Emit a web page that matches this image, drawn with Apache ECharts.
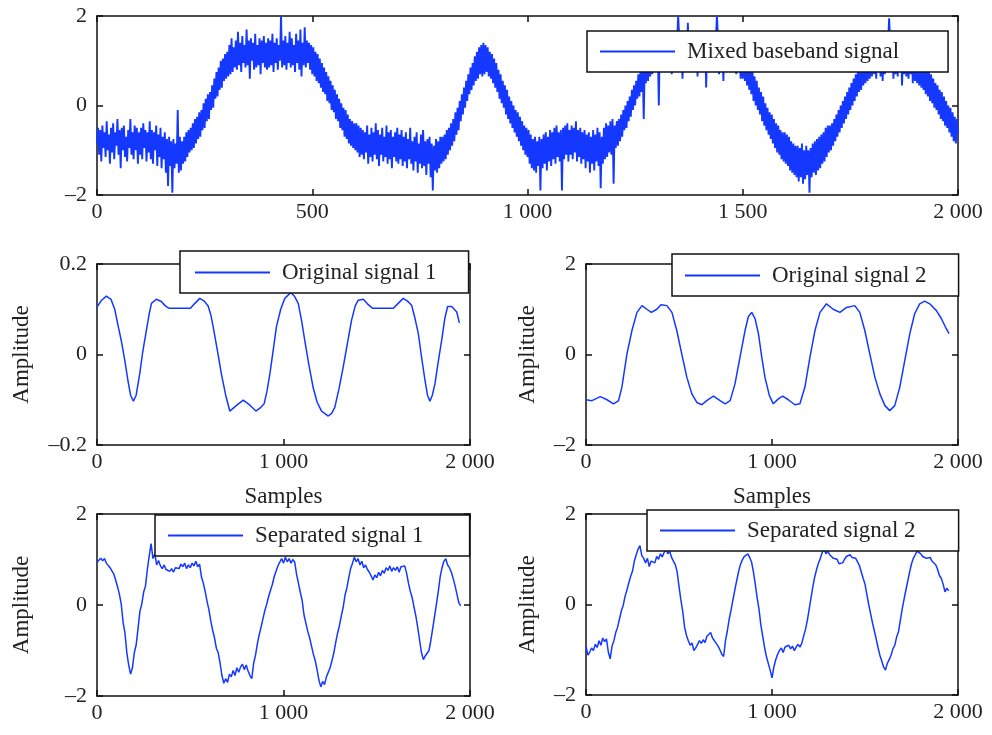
<!DOCTYPE html>
<html>
<head>
<meta charset="utf-8">
<title>Mixed and separated signals</title>
<script src="https://cdn.jsdelivr.net/npm/echarts@6/dist/echarts.min.js"></script>
<style>
  html, body { margin: 0; padding: 0; background: #fff; }
  #chart { width: 992px; height: 735px; }
</style>
</head>
<body>
<div id="chart"></div>
<script>
// Mixed baseband signal, one value every mixedStep samples (0..2000), 40 values per 100 samples
const mixedStep = 2.5;
const mixedValues = [
  -0.85, -0.5, -1.1, -0.55, -1.25, -0.45, -0.95, -0.6, -1.15, -0.35, -1.0, -0.65, -1.3, -0.5, -1.05, -0.4, -1.2, -0.6, -0.9, -0.3,
  -1.1, -0.55, -1.4, -0.5, -1.0, -0.45, -1.15, -0.7, -1.25, -0.55, -0.95, -0.3, -1.1, -0.6, -1.2, -0.45, -1.0, -0.5, -1.3, -0.6,
  -1.1, -0.5, -1.2, -0.4, -0.95, -0.55, -1.25, -0.6, -1.05, -0.35, -1.2, -0.55, -1.3, -0.6, -1.0, -0.45, -1.35, -0.65, -1.15, -0.5,
  -1.4, -0.7, -1.2, -0.6, -1.5, -0.75, -1.8, -0.7, -1.35, -0.8, -1.95, -0.75, -1.4, -0.85, -1.3, -0.1, -1.5, -0.7, -1.45, -0.8,
  -1.3, -0.7, -1.25, -0.6, -1.15, -0.55, -1.05, -0.5, -1.0, -0.4, -0.95, -0.3, -0.85, -0.25, -0.75, -0.15, -0.7, -0.1, -0.55, 0.05,
  -0.5, 0.15, -0.35, 0.25, -0.3, 0.3, -0.1, 0.45, -0.05, 0.6, 0.15, 0.75, 0.2, 0.85, 0.35, 1.0, 0.4, 1.05, 0.55, 1.15,
  0.6, 1.2, 0.65, 1.35, 0.7, 1.5, 0.75, 1.3, 0.85, 1.45, 0.8, 1.65, 0.9, 1.4, 0.75, 1.55, 0.95, 1.35, 0.85, 1.7,
  0.9, 1.45, 0.6, 1.5, 1.0, 1.4, 0.8, 1.6, 0.85, 1.35, 0.9, 1.5, 0.7, 1.45, 0.95, 1.55, 0.85, 1.4, 0.8, 1.5,
  0.85, 1.45, 0.9, 1.6, 0.75, 1.4, 0.95, 1.5, 0.8, 1.35, 1.0, 2.0, 0.85, 1.45, 0.9, 1.55, 0.8, 1.4, 0.95, 1.65,
  0.85, 1.5, 0.9, 1.35, 0.75, 1.6, 0.95, 1.45, 0.8, 1.7, 0.65, 1.4, 0.9, 1.75, 0.85, 1.45, 0.95, 1.4, 0.8, 1.35,
  0.7, 1.3, 0.65, 1.2, 0.55, 1.15, 0.5, 1.05, 0.4, 0.95, 0.3, 0.85, 0.25, 0.75, 0.1, 0.65, 0.05, 0.55, -0.1, 0.45,
  -0.15, 0.35, -0.3, 0.25, -0.35, 0.15, -0.5, 0.05, -0.55, -0.05, -0.7, -0.1, -0.75, -0.2, -0.85, -0.3, -0.9, -0.35, -0.95, -0.4,
  -1.0, -0.4, -1.05, -0.45, -1.15, -0.5, -1.1, -0.55, -1.2, -0.6, -1.05, -0.45, -1.3, -0.65, -1.15, -0.5, -1.25, -0.6, -1.1, -0.4,
  -1.2, -0.55, -1.35, -0.65, -1.1, -0.5, -1.25, -0.7, -1.15, -0.45, -1.3, -0.6, -1.2, -0.55, -1.4, -0.7, -1.15, -0.6, -1.25, -0.5,
  -1.3, -0.65, -1.2, -0.55, -1.35, -0.7, -1.25, -0.6, -1.4, -0.75, -1.2, -0.5, -1.3, -0.8, -1.45, -0.7, -1.25, -0.6, -1.5, -0.85,
  -1.3, -0.65, -1.4, -0.55, -1.35, -0.8, -1.55, -0.75, -1.3, -0.7, -1.6, -0.85, -1.9, -0.9, -1.45, -0.75, -1.5, -0.8, -1.4, -0.7,
  -1.3, -0.7, -1.25, -0.65, -1.2, -0.55, -1.1, -0.5, -1.0, -0.4, -0.9, -0.3, -0.8, -0.15, -0.65, -0.05, -0.55, 0.1, -0.35, 0.25,
  -0.2, 0.4, -0.05, 0.55, 0.1, 0.7, 0.25, 0.85, 0.35, 0.95, 0.45, 1.1, 0.55, 1.2, 0.6, 1.3, 0.7, 1.35, 0.65, 1.4,
  0.7, 1.35, 0.75, 1.3, 0.65, 1.2, 0.6, 1.15, 0.5, 1.05, 0.4, 0.95, 0.3, 0.8, 0.15, 0.7, 0.05, 0.55, -0.05, 0.45,
  -0.2, 0.35, -0.3, 0.2, -0.4, 0.1, -0.5, 0.0, -0.6, -0.1, -0.7, -0.15, -0.8, -0.25, -0.9, -0.35, -1.0, -0.45, -1.1, -0.5,
  -1.15, -0.55, -1.3, -0.65, -1.4, -0.75, -1.45, -0.7, -1.5, -0.8, -1.35, -0.7, -1.9, -0.75, -1.4, -0.65, -1.3, -0.6, -1.45, -0.7,
  -1.25, -0.55, -1.35, -0.6, -1.2, -0.5, -1.3, -0.45, -1.15, -0.6, -1.25, -0.55, -1.9, -0.5, -1.2, -0.45, -1.1, -0.4, -1.25, -0.55,
  -1.1, -0.45, -1.2, -0.5, -1.05, -0.35, -1.25, -0.55, -1.15, -0.5, -1.3, -0.6, -1.2, -0.55, -1.4, -0.65, -1.25, -0.6, -1.5, -0.7,
  -1.3, -0.55, -1.45, -0.65, -1.25, -0.5, -1.35, -0.6, -1.85, -0.7, -1.3, -0.5, -1.2, -0.4, -1.15, -0.45, -1.05, -0.35, -1.1, -0.3,
  -1.75, -0.45, -0.95, -0.35, -0.9, -0.3, -0.8, -0.2, -0.7, -0.1, -0.55, 0.0, -0.5, 0.1, -0.35, 0.2, -0.25, 0.35, -0.1, 0.45,
  0.0, 0.55, 0.15, 0.7, 0.2, 0.8, 0.3, 0.9, -0.3, 1.0, 0.5, 1.15, 0.55, 1.2, 0.65, 1.3, 0.7, 1.4, 0.75, 1.35,
  0.85, 1.4, 0.0, 1.5, 0.8, 1.35, 0.9, 1.6, 0.75, 1.45, 0.95, 1.5, 0.85, 1.65, 0.7, 1.4, 0.9, 1.55, 0.85, 1.45,
  2.0, 1.5, 0.9, 1.6, 0.6, 1.45, 0.85, 1.55, 0.9, 1.85, 0.8, 1.5, 0.95, 1.4, 0.85, 1.6, 0.9, 1.45, 0.65, 1.5,
  0.9, 1.55, 0.85, 1.45, 0.95, 1.6, 0.4, 1.5, 0.8, 1.4, 0.9, 1.55, 0.85, 1.65, 0.9, 1.45, 2.0, 1.5, 0.7, 1.45,
  0.85, 1.55, 0.55, 1.4, 0.8, 1.5, 0.9, 1.35, 0.85, 1.45, 1.0, 1.55, 0.75, 1.4, 0.7, 1.3, 0.8, 1.35, 0.6, 1.25,
  0.6, 1.2, 0.55, 1.1, 0.45, 1.0, 0.35, 0.9, 0.25, 0.8, 0.1, 0.65, 0.0, 0.55, -0.1, 0.4, -0.2, 0.3, -0.35, 0.2,
  -0.45, 0.05, -0.55, -0.05, -0.65, -0.15, -0.75, -0.2, -0.85, -0.3, -0.95, -0.4, -1.05, -0.45, -1.1, -0.55, -1.2, -0.6, -1.25, -0.6,
  -1.3, -0.65, -1.35, -0.7, -1.45, -0.8, -1.5, -0.85, -1.55, -0.9, -1.6, -0.9, -1.7, -0.95, -1.6, -0.85, -1.75, -1.0, -1.65, -0.9,
  -1.55, -1.0, -1.95, -0.95, -1.6, -0.85, -1.5, -0.8, -1.55, -0.75, -1.45, -0.7, -1.4, -0.65, -1.3, -0.6, -1.25, -0.5, -1.15, -0.45,
  -1.05, -0.45, -1.0, -0.4, -0.9, -0.3, -0.8, -0.2, -0.7, -0.1, -0.6, 0.0, -0.5, 0.1, -0.4, 0.2, -0.3, 0.3, -0.2, 0.4,
  -0.1, 0.5, 0.0, 0.6, 0.1, 0.7, 0.2, 0.8, 0.3, 0.9, 0.35, 0.95, 0.45, 1.05, 0.5, 1.1, 0.55, 1.15, 0.6, 1.2,
  0.65, 1.3, 0.7, 1.4, 0.6, 1.25, 0.75, 1.45, 0.65, 1.3, 0.55, 1.35, 0.7, 1.5, 0.8, 1.35, 1.95, 1.4, 0.75, 1.3,
  0.6, 1.45, 0.7, 1.35, 0.65, 1.3, 0.75, 1.4, 0.45, 1.25, 0.7, 1.5, 0.65, 1.3, 0.6, 1.25, 0.7, 1.35, 0.5, 1.25,
  0.55, 1.2, 0.5, 1.1, 0.45, 1.05, 0.4, 0.95, 0.35, 0.9, 0.25, 0.85, 0.2, 0.75, 0.1, 0.7, 0.05, 0.6, -0.05, 0.5,
  -0.1, 0.45, -0.2, 0.35, -0.3, 0.3, -0.35, 0.2, -0.45, 0.1, -0.5, 0.0, -0.6, -0.05, -0.7, -0.15, -0.8, -0.25, -0.85, -0.3,
  -0.65
];

// Original signal 1 (read at irregular sample positions)
const orig1Samples = [0, 25, 50, 75, 95, 115, 130, 150, 166, 180, 195, 210, 229, 245, 265, 280, 292, 318, 345, 365, 386, 450, 501, 525, 551, 575, 596, 610, 623, 645, 667, 690, 712, 750, 784, 820, 852, 875, 896, 912, 927, 945, 962, 985, 1007, 1039, 1060, 1079, 1097, 1114, 1135, 1159, 1180, 1204, 1240, 1258, 1275, 1298, 1320, 1343, 1365, 1385, 1401, 1428, 1450, 1478, 1589, 1615, 1642, 1665, 1687, 1705, 1723, 1740, 1759, 1772, 1785, 1798, 1812, 1830, 1848, 1865, 1880, 1902, 1929, 1943];
const orig1Values = [0.105, 0.120, 0.129, 0.122, 0.100, 0.060, 0.031, -0.015, -0.058, -0.090, -0.103, -0.090, -0.043, 0.005, 0.054, 0.090, 0.113, 0.122, 0.117, 0.108, 0.102, 0.102, 0.102, 0.113, 0.124, 0.118, 0.107, 0.088, 0.061, 0.010, -0.043, -0.090, -0.125, -0.112, -0.101, -0.112, -0.125, -0.118, -0.109, -0.080, -0.043, 0.010, 0.061, 0.100, 0.124, 0.137, 0.128, 0.113, 0.075, 0.031, -0.020, -0.073, -0.105, -0.125, -0.136, -0.130, -0.117, -0.075, -0.028, 0.025, 0.076, 0.108, 0.120, 0.122, 0.112, 0.102, 0.102, 0.113, 0.124, 0.118, 0.109, 0.080, 0.046, -0.005, -0.058, -0.090, -0.103, -0.090, -0.065, -0.015, 0.031, 0.080, 0.106, 0.106, 0.094, 0.070];

// Original signal 2
const orig2Samples = [0, 32, 77, 113, 148, 175, 193, 220, 247, 274, 301, 327, 351, 381, 403, 435, 462, 488, 515, 542, 569, 596, 623, 649, 685, 721, 748, 775, 801, 828, 855, 873, 891, 909, 927, 945, 962, 986, 1007, 1034, 1057, 1088, 1123, 1150, 1177, 1204, 1231, 1258, 1293, 1329, 1365, 1401, 1445, 1472, 1499, 1526, 1553, 1580, 1607, 1633, 1660, 1687, 1714, 1741, 1767, 1794, 1821, 1848, 1884, 1911, 1937, 1952];
const orig2Values = [-1.00, -1.02, -0.93, -1.00, -1.09, -1.02, -0.72, 0.01, 0.53, 0.93, 1.08, 1.00, 0.93, 1.00, 1.10, 1.08, 0.93, 0.53, 0.01, -0.50, -0.87, -1.06, -1.11, -1.02, -0.92, -1.02, -1.09, -1.02, -0.65, -0.06, 0.53, 0.84, 0.93, 0.79, 0.46, -0.06, -0.50, -0.91, -1.09, -0.98, -0.92, -1.00, -1.11, -1.09, -0.72, -0.06, 0.53, 0.93, 1.12, 1.00, 0.93, 1.04, 1.08, 0.93, 0.53, 0.01, -0.50, -0.87, -1.13, -1.24, -1.13, -0.72, -0.13, 0.46, 0.90, 1.12, 1.18, 1.12, 0.97, 0.79, 0.57, 0.46];

// Separated signals, one value every sepStep samples (0..1950)
const sepStep = 10;
const sep1Values = [
  0.94, 0.98, 1.03, 0.97, 1.02, 0.92, 0.88, 0.82, 0.86, 0.68, 0.55, 0.40, 0.24, 0.02, -0.38, -0.62, -1.05, -1.32, -1.52, -1.38,
  -1.05, -0.88, -0.52, -0.14, 0.02, 0.28, 0.42, 0.78, 1.08, 1.35, 1.02, 1.12, 0.88, 0.98, 0.86, 0.80, 0.88, 0.78, 0.82, 0.74,
  0.80, 0.72, 0.82, 0.86, 0.80, 0.90, 0.84, 0.92, 0.80, 0.88, 0.82, 0.92, 0.86, 0.96, 0.84, 0.90, 0.62, 0.48, 0.30, 0.08,
  -0.10, -0.35, -0.55, -0.72, -0.95, -1.05, -1.28, -1.55, -1.72, -1.62, -1.70, -1.52, -1.58, -1.44, -1.55, -1.38, -1.48, -1.36, -1.30, -1.42,
  -1.32, -1.45, -1.55, -1.62, -1.28, -1.10, -0.85, -0.65, -0.48, -0.30, -0.12, 0.02, 0.18, 0.32, 0.45, 0.62, 0.74, 0.86, 0.94, 1.02,
  0.92, 1.05, 0.95, 1.02, 0.92, 1.00, 0.94, 0.68, 0.48, 0.28, 0.10, -0.22, -0.40, -0.58, -0.72, -0.90, -1.08, -1.22, -1.42, -1.65,
  -1.80, -1.68, -1.75, -1.58, -1.62, -1.38, -1.22, -1.05, -0.82, -0.62, -0.45, -0.24, -0.05, 0.22, 0.38, 0.60, 0.80, 0.92, 1.05, 0.95,
  1.02, 0.88, 0.96, 0.82, 0.88, 0.78, 0.72, 0.64, 0.55, 0.66, 0.60, 0.72, 0.64, 0.76, 0.70, 0.82, 0.76, 0.86, 0.74, 0.82,
  0.76, 0.84, 0.72, 0.84, 0.80, 0.86, 0.70, 0.48, 0.30, 0.16, -0.05, -0.25, -0.50, -0.78, -1.05, -1.20, -1.12, -1.16, -1.00, -0.78,
  -0.52, -0.25, 0.02, 0.30, 0.62, 0.82, 0.96, 1.02, 0.88, 0.82, 0.72, 0.58, 0.42, 0.24, 0.05, -0.02
];
const sep2Values = [
  -0.92, -1.12, -1.05, -0.96, -1.02, -0.88, -0.95, -0.80, -0.90, -0.74, -0.82, -0.76, -1.05, -1.20, -0.92, -0.80, -0.62, -0.50, -0.32, -0.14,
  -0.02, 0.18, 0.32, 0.48, 0.62, 0.74, 0.96, 1.10, 1.22, 1.30, 1.08, 1.02, 0.92, 1.02, 0.84, 0.96, 1.00, 0.92, 1.06, 1.00,
  1.12, 1.05, 1.15, 1.22, 1.12, 1.18, 1.04, 0.96, 0.88, 0.72, 0.40, 0.10, -0.15, -0.50, -0.68, -0.80, -0.90, -0.85, -1.02, -0.96,
  -0.88, -0.80, -0.86, -0.78, -0.84, -0.70, -0.66, -0.62, -0.74, -0.80, -0.86, -0.92, -1.00, -1.10, -1.15, -0.80, -0.58, -0.32, -0.12, 0.10,
  0.32, 0.52, 0.72, 0.88, 0.98, 1.06, 1.10, 1.12, 1.04, 0.94, 0.72, 0.45, 0.15, -0.10, -0.45, -0.70, -0.95, -1.15, -1.30, -1.45,
  -1.62, -1.38, -1.22, -1.10, -1.02, -0.96, -1.06, -0.94, -0.98, -0.90, -0.98, -0.92, -1.02, -0.94, -0.88, -0.94, -0.86, -0.70, -0.55, -0.35,
  -0.10, 0.15, 0.40, 0.62, 0.78, 0.92, 1.02, 1.15, 1.22, 1.12, 1.18, 1.10, 1.08, 1.02, 0.98, 1.00, 0.90, 0.86, 0.92, 1.00,
  1.06, 1.02, 1.10, 1.04, 1.08, 1.02, 0.94, 0.86, 0.72, 0.58, 0.45, 0.22, 0.00, -0.20, -0.40, -0.58, -0.76, -0.95, -1.12, -1.25,
  -1.38, -1.45, -1.30, -1.22, -1.12, -0.98, -0.90, -0.72, -0.60, -0.35, -0.10, 0.12, 0.32, 0.52, 0.72, 0.90, 1.02, 1.10, 1.18, 1.20,
  1.12, 1.06, 1.10, 1.02, 1.00, 1.04, 0.96, 0.92, 0.88, 0.78, 0.64, 0.58, 0.45, 0.28, 0.36, 0.30
];

const seriesNames = ['Mixed baseband signal', 'Original signal 1', 'Original signal 2', 'Separated signal 1', 'Separated signal 2'];

const lineColor = '#1438ff';
const serif = '"Liberation Serif", "DejaVu Serif", serif';

function pairsFromStep(values, step) {
  return values.map((v, i) => [i * step, v]);
}
function pairsFromSamples(samples, values) {
  return samples.map((s, i) => [s, values[i]]);
}
function fmtSamples(v) {
  return String(v).replace(/\B(?=(\d{3})+(?!\d))/g, ' ');
}
function fmtAmp(v) {
  const r = Math.round(v * 1000) / 1000;
  if (r === 0) return '0';
  return r < 0 ? '\u2013' + String(-r) : String(r);
}

const panels = [
  { grid: { left: 97, top: 16, width: 861, height: 179 }, xInt: 500, yMin: -2, yMax: 2, yInt: 2,
    data: pairsFromStep(mixedValues, mixedStep), width: 1.9,
    legend: { left: 587, top: 31, padding: [9, 49, 9, 13] } },
  { grid: { left: 97, top: 264, width: 373, height: 181 }, xInt: 1000, yMin: -0.2, yMax: 0.2, yInt: 0.2,
    data: pairsFromSamples(orig1Samples, orig1Values), width: 1.5, xName: 'Samples', yName: 'Amplitude', yGap: 64,
    legend: { left: 180, top: 251, padding: [10, 32, 9, 15] } },
  { grid: { left: 586, top: 264, width: 372, height: 181 }, xInt: 1000, yMin: -2, yMax: 2, yInt: 2,
    data: pairsFromSamples(orig2Samples, orig2Values), width: 1.5, xName: 'Samples', yName: 'Amplitude', yGap: 47,
    legend: { left: 672, top: 254, padding: [10, 32, 9, 13] } },
  { grid: { left: 97, top: 514, width: 373, height: 182 }, xInt: 1000, yMin: -2, yMax: 2, yInt: 2,
    data: pairsFromStep(sep1Values, sepStep), width: 1.5, yName: 'Amplitude', yGap: 64,
    legend: { left: 155, top: 515, padding: [9, 46, 9, 13] } },
  { grid: { left: 586, top: 514, width: 372, height: 181 }, xInt: 1000, yMin: -2, yMax: 2, yInt: 2,
    data: pairsFromStep(sep2Values, sepStep), width: 1.5, yName: 'Amplitude', yGap: 47,
    legend: { left: 647, top: 510, padding: [9, 43, 9, 13] } },
];

const tickStyle = { show: true, inside: true, length: 6, lineStyle: { color: '#111', width: 1.5 } };
const labelStyle = { color: '#222', fontFamily: serif, fontSize: 22 };
const frameLine = { show: true, onZero: false, lineStyle: { color: '#111', width: 1.5 } };

const grid = [], xAxis = [], yAxis = [], series = [], legend = [];
panels.forEach((p, i) => {
  grid.push(Object.assign({ show: false }, p.grid));
  // bottom axis with labels
  xAxis.push({
    type: 'value', gridIndex: i, min: 0, max: 2000, interval: p.xInt, position: 'bottom',
    axisLine: frameLine, splitLine: { show: false }, axisTick: tickStyle,
    axisLabel: Object.assign({ margin: 6, formatter: fmtSamples }, labelStyle),
    name: p.xName || '', nameLocation: 'middle', nameGap: 40,
    nameTextStyle: { color: '#222', fontFamily: serif, fontSize: 23 },
  });
  // mirrored top ticks
  xAxis.push({
    type: 'value', gridIndex: i, min: 0, max: 2000, interval: p.xInt, position: 'top',
    axisLine: frameLine, splitLine: { show: false }, axisTick: tickStyle, axisLabel: { show: false },
  });
  yAxis.push({
    type: 'value', gridIndex: i, min: p.yMin, max: p.yMax, interval: p.yInt, position: 'left',
    axisLine: frameLine, splitLine: { show: false }, axisTick: tickStyle,
    axisLabel: Object.assign({ margin: 10, formatter: fmtAmp }, labelStyle),
    name: p.yName || '', nameLocation: 'middle', nameGap: p.yGap || 40,
    nameTextStyle: { color: '#222', fontFamily: serif, fontSize: 23 },
  });
  yAxis.push({
    type: 'value', gridIndex: i, min: p.yMin, max: p.yMax, interval: p.yInt, position: 'right',
    axisLine: frameLine, splitLine: { show: false }, axisTick: tickStyle, axisLabel: { show: false },
  });
  series.push({
    name: seriesNames[i], type: 'line', xAxisIndex: i * 2, yAxisIndex: i * 2,
    data: p.data, showSymbol: false, symbol: 'none', clip: true,
    lineStyle: { color: lineColor, width: p.width }, itemStyle: { color: lineColor },
  });
  legend.push(Object.assign({
    data: [seriesNames[i]], orient: 'horizontal', icon: 'rect', itemWidth: 75, itemHeight: 2,
    backgroundColor: '#fff', borderColor: '#111', borderWidth: 1.5, borderRadius: 0,
    selectedMode: false,
    textStyle: { color: '#222', fontFamily: serif, fontSize: 23, padding: [0, 0, 0, 7] },
  }, p.legend));
});

const chart = echarts.init(document.getElementById('chart'), null, { renderer: 'canvas' });
chart.setOption({
  animation: false,
  backgroundColor: '#fff',
  grid, xAxis, yAxis, series, legend,
});
</script>
</body>
</html>
